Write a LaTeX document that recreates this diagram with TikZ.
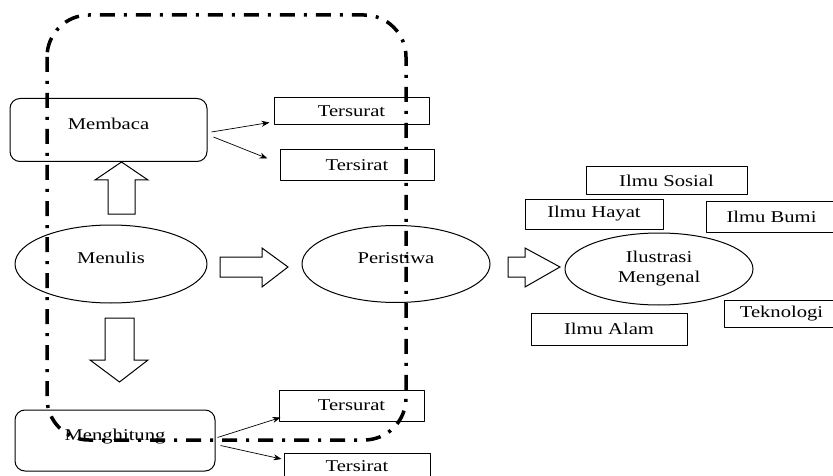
\documentclass[tikz,border=0pt]{standalone}
\usepackage{fontspec}
\setmainfont{Liberation Serif}[FakeStretch=1.25]
\usetikzlibrary{shapes.geometric,arrows.meta}
\tikzset{
  box/.style={draw, line width=1pt, inner sep=0pt},
  rbox/.style={box, rounded corners=10pt, text height=11pt, text depth=12pt},
  oval/.style={draw, ellipse, line width=1pt, inner sep=0pt},
  upper/.style={text height=11pt, text depth=12pt},
  thin/.style={line width=0.7pt, ->},
  fat/.style={line width=1pt, line join=miter},
  bound/.style={line width=3.5pt, rounded corners=42pt,
    dash pattern=on 15pt off 9pt on 3pt off 9pt}
}
\begin{document}
\begin{tikzpicture}[x=1pt, y=-1pt, font=\fontsize{16.5}{20}\selectfont,
            line join=round, >={Stealth[length=8pt,width=6pt]}]
            \useasboundingbox (0,0) rectangle (833,476);
            % left column
            \node[rbox, minimum width=197, minimum height=63] (membaca) at (108.5,130) {Membaca};
            \node[oval, upper, minimum width=192, minimum height=78] (menulis) at (111,264) {Menulis};
            \node[rbox, minimum width=200, minimum height=61] (menghitung) at (115,440.5) {Menghitung};
            \node[box, minimum width=155, minimum height=27] (tsurat1) at (351.5,111.5) {Tersurat};
            \node[box, minimum width=154, minimum height=31] (tsirat1) at (357,165.5) {Tersirat};
            \node[box, minimum width=145, minimum height=31] (tsurat2) at (351.5,405.5) {Tersurat};
            \node[box, minimum width=146, minimum height=26] (tsirat2) at (357,466) {Tersirat};
            % middle and right
            \node[oval, upper, minimum width=188, minimum height=77] (peristiwa) at (396,264) {Peristiwa};
            \node[oval, align=center, minimum width=188, minimum height=72] (ilustrasi) at (659,269) {Ilustrasi\\Mengenal};
            \node[box, minimum width=161, minimum height=27] (sosial) at (666.5,180.5) {Ilmu Sosial};
            \node[box, minimum width=138, minimum height=30] (hayat) at (594,214) {Ilmu Hayat};
            \node[box, minimum width=131, minimum height=31] (bumi) at (771.5,216.5) {Ilmu Bumi};
            \node[box, minimum width=115, minimum height=27] (tekno) at (781.5,313.5) {Teknologi};
            \node[box, minimum width=156, minimum height=32] (alam) at (609,329) {Ilmu Alam};
            % thin arrows
            \draw[thin] ([shift={(4,2)}]membaca.east) -- ([shift={(-4,-3)}]tsurat1.south west);
            \draw[thin] ([shift={(6,7)}]membaca.east) -- ([shift={(-12,-7)}]tsirat1.west);
            \draw[thin] ([shift={(2,-3)}]menghitung.east) -- ([shift={(2,-4)}]tsurat2.south west);
            \draw[thin] ([shift={(5,5)}]menghitung.east) -- ([shift={(-2,-7)}]tsirat2.west);
            % block arrows
            \draw[fat] (108,214) -- (108,180) -- (95,180) -- (121.5,162) -- (148,180) -- (135,180) -- (135,214) -- cycle;
            \draw[fat] (105,318) -- (134,318) -- (134,360) -- (148,360) -- (119.5,382) -- (90,360) -- (105,360) -- cycle;
            \draw[fat] (220,257) -- (262,257) -- (262,248) -- (288,267) -- (262,287) -- (262,277) -- (220,277) -- cycle;
            \draw[fat] (508,257) -- (525,257) -- (525,248) -- (560,267) -- (525,287) -- (525,277) -- (508,277) -- cycle;
            % dash-dot frame
            \draw[bound] (47,15) rectangle (406,440);
\end{tikzpicture}
\end{document}
